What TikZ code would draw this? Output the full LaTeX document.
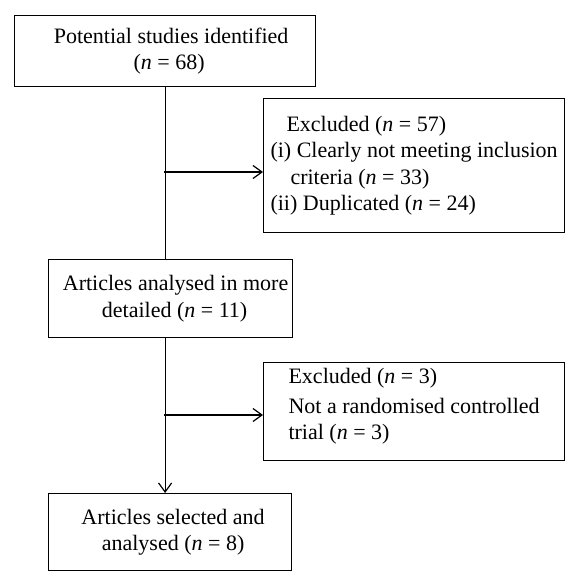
\documentclass[tikz,border=0pt]{standalone}
\usepackage{fontspec}
\setmainfont{Liberation Serif}
\usetikzlibrary{arrows.meta}

\begin{document}
\begin{tikzpicture}[x=1pt, y=-1pt, flowBox/.style={draw, line width=1.2pt, inner sep=0pt, anchor=north west, font=\fontsize{22}{26.5}\selectfont}, flowLine/.style={line width=1.2pt}, >={Straight Barb[length=9pt,width=13pt,line width=1.2pt]}]
	\useasboundingbox (0,0) rectangle (579,585);
	\node[flowBox, minimum width=301pt, minimum height=71pt, align=center] (identified) at (14,15) {\hspace*{12pt}Potential studies identified\\\hspace*{8pt}(\textit{n} = 68)};
	\node[flowBox, minimum width=301pt, minimum height=134pt, align=left] (excludedFirst) at (263,98) {\hspace*{16pt}Excluded (\textit{n} = 57)\\(i) Clearly not meeting inclusion\\\hspace*{20pt}criteria (\textit{n} = 33)\\(ii) Duplicated (\textit{n} = 24)};
	\node[flowBox, minimum width=244pt, minimum height=78pt, align=center] (detailed) at (48,259) {\hspace*{10pt}Articles analysed in more\\\hspace*{8pt}detailed (\textit{n} = 11)};
	\node[flowBox, minimum width=301pt, minimum height=98pt, align=left] (excludedSecond) at (263,362) {Excluded (\textit{n} = 3)\\[3pt]Not a randomised controlled\\trial (\textit{n} = 3)\\[-12pt]\hbox{}};
	\node[flowBox, minimum width=243pt, minimum height=77pt, align=center] (selected) at (48,493) {\hspace*{6pt}Articles selected and\\\hspace*{6pt}analysed (\textit{n} = 8)};
	\coordinate (splitTop) at (164,172);
	\coordinate (splitBottom) at (164,415);
	\draw[flowLine] (identified.south) -- (identified.south |- detailed.north);
	\draw[flowLine, ->] (splitTop) -- (splitTop -| excludedFirst.west);
	\draw[flowLine, ->] (identified.south |- detailed.south) -- (identified.south |- selected.north);
	\draw[flowLine, ->] (splitBottom) -- (splitBottom -| excludedSecond.west);
\end{tikzpicture}
\end{document}
